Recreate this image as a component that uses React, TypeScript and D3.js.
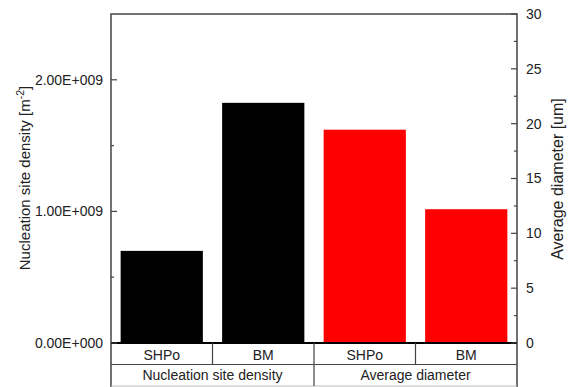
import React from "react";
import * as d3 from "d3";

const categories = ["SHPo", "BM", "SHPo", "BM"];
const groups = ["Nucleation site density", "Average diameter"];
const densityValues = [0.7e9, 1.825e9];
const diameterValues = [19.45, 12.2];
const leftTicks = [0, 1e9, 2e9];
const rightTicks = [0, 5, 10, 15, 20, 25, 30];

const W = 570;
const H = 387;
const margin = { top: 14, right: 53, bottom: 44, left: 111 };

const fmtSci = (v: number) => {
  if (v === 0) return "0.00E+000";
  const e = Math.floor(Math.log10(v));
  const m = v / Math.pow(10, e);
  return m.toFixed(2) + "E+" + String(e).padStart(3, "0");
};

const App = () => {
  const x0 = margin.left;
  const x1 = W - margin.right;
  const y0 = H - margin.bottom;
  const y1 = margin.top;

  const xScale = d3.scaleBand<number>().domain([0, 1, 2, 3]).range([x0, x1]).paddingInner(0.19).paddingOuter(0.095);
  const band = d3.scaleBand<number>().domain([0, 1, 2, 3]).range([x0, x1]);
  const yLeft = d3.scaleLinear().domain([0, 2.5e9]).range([y0, y1]);
  const yRight = d3.scaleLinear().domain([0, 30]).range([y0, y1]);

  const bars = [
    ...densityValues.map((v, i) => ({ i, y: yLeft(v), color: "#000000" })),
    ...diameterValues.map((v, i) => ({ i: i + 2, y: yRight(v), color: "#ff0000" })),
  ];

  const leftMinor = d3.range(0.5e9, 2.5e9, 1e9);
  const rightMinor = d3.range(2.5, 30, 5);
  const axisColor = "#444";
  const txt = "#222";
  const row1 = y0 + 21.5;
  const row2 = H - 1;

  return (
    <svg width={W} height={H} style={{ position: "absolute", left: 0, top: 0, fontFamily: "Liberation Sans, Arial, sans-serif" }}>
      <rect width={W} height={H} fill="#fff" />
      {bars.map((b) => (
        <rect key={b.i} x={xScale(b.i)} y={b.y} width={xScale.bandwidth()} height={y0 - b.y} fill={b.color} />
      ))}
      {/* frame */}
      <path d={`M${x0},${H}V${y1}H${x1}V${H}`} fill="none" stroke={axisColor} strokeWidth={1.5} />
      <line x1={x0} x2={x1} y1={y0} y2={y0} stroke="#000" strokeWidth={2} />
      {/* left ticks */}
      {leftTicks.map((t) => (
        <g key={t}>
          <line x1={x0} x2={x0 + 6} y1={yLeft(t)} y2={yLeft(t)} stroke={axisColor} strokeWidth={1.2} />
          <text x={x0 - 8} y={yLeft(t)} dy="0.35em" textAnchor="end" fontSize={14} fill={txt}>{fmtSci(t)}</text>
        </g>
      ))}
      {leftMinor.map((t) => (
        <line key={t} x1={x0} x2={x0 + 3} y1={yLeft(t)} y2={yLeft(t)} stroke={axisColor} strokeWidth={1.2} />
      ))}
      {/* right ticks */}
      {rightTicks.map((t) => (
        <g key={t}>
          <line x1={x1} x2={x1 - 6} y1={yRight(t)} y2={yRight(t)} stroke={axisColor} strokeWidth={1.2} />
          <text x={x1 + 9} y={yRight(t)} dy="0.35em" textAnchor="start" fontSize={14} fill={txt}>{t}</text>
        </g>
      ))}
      {rightMinor.map((t) => (
        <line key={t} x1={x1} x2={x1 - 3} y1={yRight(t)} y2={yRight(t)} stroke={axisColor} strokeWidth={1.2} />
      ))}
      {/* category table */}
      <line x1={x0} x2={x1} y1={row1} y2={row1} stroke={axisColor} strokeWidth={1.2} />
      <line x1={x0} x2={x1} y1={row2} y2={row2} stroke="#bbb" strokeWidth={1} />
      {[1, 2, 3].map((i) => (
        <line key={i} x1={band(i)} x2={band(i)} y1={y0} y2={i === 2 ? row2 : row1} stroke={axisColor} strokeWidth={1.2} />
      ))}
      {categories.map((c, i) => (
        <text key={i} x={(band(i) as number) + band.bandwidth() / 2} y={(y0 + row1) / 2 + 1} dy="0.35em" textAnchor="middle" fontSize={14} fill={txt}>{c}</text>
      ))}
      {groups.map((g, i) => (
        <text key={g} x={(band(i * 2) as number) + band.bandwidth()} y={(row1 + row2) / 2} dy="0.35em" textAnchor="middle" fontSize={14} fill={txt}>{g}</text>
      ))}
      {/* axis titles */}
      <text transform={`translate(25,178) rotate(-90)`} textAnchor="middle" dy="0.35em" fontSize={15} fill={txt}>
        Nucleation site density [m<tspan dy="-6" fontSize={10.5}>-2</tspan><tspan dy="6">]</tspan>
      </text>
      <text transform={`translate(557,179) rotate(-90)`} textAnchor="middle" dy="0.35em" fontSize={16} fill={txt}>
        Average diameter [um]
      </text>
    </svg>
  );
};

export default App;
